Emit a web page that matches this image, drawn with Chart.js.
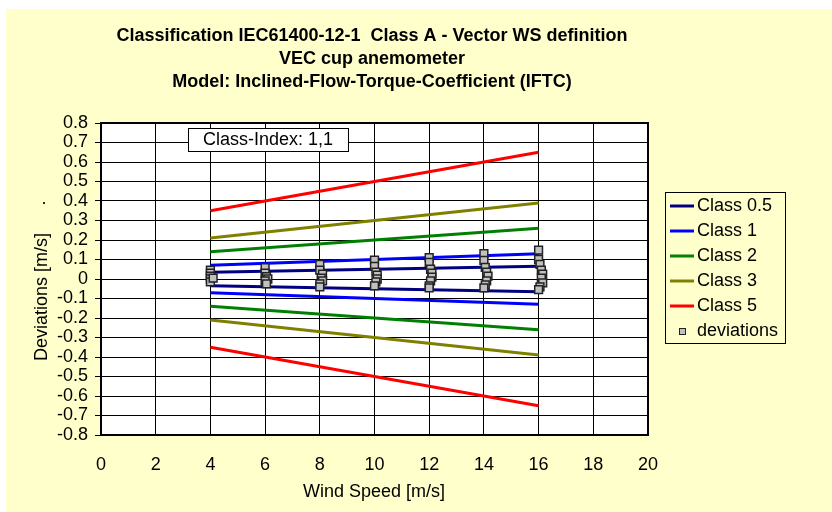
<!DOCTYPE html>
<html>
<head>
<meta charset="utf-8">
<title>Classification IEC61400-12-1</title>
<script src="https://cdn.jsdelivr.net/npm/chart.js@4/dist/chart.umd.min.js"></script>
<style>
    body { margin: 0; background: #fff; }
    canvas { display: block; }
</style>
</head>
<body>
<canvas id="devChart" width="832" height="512"></canvas>
<script>
// Class limit lines (upper / lower) at 4 and 16 m/s
const classNames = ['Class 0.5', 'Class 1', 'Class 2', 'Class 3', 'Class 5'];
const limitSpeeds = [4, 16];
const upperAt4 = [0.035, 0.07, 0.14, 0.21, 0.35];
const upperAt16 = [0.065, 0.13, 0.26, 0.39, 0.65];
const lowerAt4 = [-0.035, -0.07, -0.14, -0.21, -0.35];
const lowerAt16 = [-0.065, -0.13, -0.26, -0.39, -0.65];

const devSpeeds = [
    4.0, 4.0, 4.0, 4.0, 4.0, 4.1,
    6.0, 6.0, 6.05, 6.1, 6.0, 6.05,
    8.0, 8.0, 8.1, 8.05, 8.1, 8.0, 8.0,
    10.0, 10.0, 10.05, 10.1, 10.1, 10.05, 10.0,
    12.0, 12.0, 12.05, 12.1, 12.1, 12.05, 12.0, 12.0,
    14.0, 14.0, 14.05, 14.1, 14.15, 14.1, 14.05, 14.0,
    16.0, 16.0, 16.05, 16.1, 16.15, 16.1, 16.15, 16.05, 16.0
];
const devValues = [
    0.045, 0.03, 0.015, 0.0, -0.015, 0.005,
    0.058, 0.03, 0.012, 0.0, -0.01, -0.025,
    0.075, 0.046, 0.025, 0.005, -0.01, -0.025, -0.04,
    0.097, 0.065, 0.035, 0.02, 0.0, -0.015, -0.035,
    0.11, 0.085, 0.05, 0.03, 0.01, -0.01, -0.035, -0.045,
    0.13, 0.095, 0.06, 0.035, 0.015, -0.01, -0.03, -0.045,
    0.148, 0.1, 0.075, 0.045, 0.025, 0.005, -0.02, -0.04, -0.055
];

// Axis ticks
const xTickValues = [0, 2, 4, 6, 8, 10, 12, 14, 16, 18, 20];
const yTickValues = [-0.8, -0.7, -0.6, -0.5, -0.4, -0.3, -0.2, -0.1, 0, 0.1, 0.2, 0.3, 0.4, 0.5, 0.6, 0.7, 0.8];

const classColors = ['#000080', '#0000FF', '#008000', '#808000', '#FF0000'];
const FONT = "'Liberation Sans', Arial, sans-serif";

// Build one dataset per class: upper line, gap, lower line
const datasets = classNames.map(function(name, i) {
    return {
        label: name,
        showLine: true,
        spanGaps: false,
        data: [
            { x: limitSpeeds[0], y: upperAt4[i] },
            { x: limitSpeeds[1], y: upperAt16[i] },
            { x: limitSpeeds[1], y: null },
            { x: limitSpeeds[0], y: lowerAt4[i] },
            { x: limitSpeeds[1], y: lowerAt16[i] }
        ],
        borderColor: classColors[i],
        backgroundColor: classColors[i],
        borderWidth: 3,
        pointRadius: 0,
        order: 1
    };
});

datasets.push({
    label: 'deviations',
    showLine: false,
    data: devSpeeds.map(function(x, i) { return { x: x, y: devValues[i] }; }),
    pointStyle: 'rect',
    pointRadius: 5.5,
    backgroundColor: '#C0C0C0',
    borderColor: '#222',
    borderWidth: 1.5,
    order: 0
});

// Backgrounds: yellow chart area, white plot area
const backgroundPlugin = {
    id: 'backgrounds',
    beforeDraw: function(chart) {
        const ctx = chart.ctx;
        const a = chart.chartArea;
        ctx.save();
        ctx.fillStyle = '#fff';
        ctx.fillRect(0, 0, chart.width, chart.height);
        ctx.fillStyle = '#FFFFCC';
        ctx.fillRect(6, 9, chart.width - 6, chart.height - 9);
        ctx.fillStyle = '#fff';
        ctx.fillRect(a.left, a.top, a.right - a.left, a.bottom - a.top);
        ctx.restore();
    }
};

// Titles, plot frame, info box and legend
const decorPlugin = {
    id: 'decor',
    afterDraw: function(chart) {
        const ctx = chart.ctx;
        const a = chart.chartArea;
        ctx.save();

        // plot frame
        ctx.strokeStyle = '#000';
        ctx.lineWidth = 2;
        ctx.strokeRect(a.left, a.top, a.right - a.left, a.bottom - a.top);

        // title
        ctx.fillStyle = '#000';
        ctx.textAlign = 'center';
        ctx.textBaseline = 'middle';
        ctx.font = 'bold 18px ' + FONT;
        ctx.fillText('Classification IEC61400-12-1  Class A - Vector WS definition', 372, 36);
        ctx.fillText('VEC cup anemometer', 372, 59);
        ctx.fillText('Model: Inclined-Flow-Torque-Coefficient (IFTC)', 372, 82);

        // axis titles
        ctx.font = '18px ' + FONT;
        ctx.fillText('Wind Speed [m/s]', 374, 492);
        ctx.save();
        ctx.translate(42, 297);
        ctx.rotate(-Math.PI / 2);
        ctx.fillText('Deviations [m/s]', 0, 0);
        ctx.restore();
        ctx.fillText('.', 44, 199);

        // class index box
        ctx.fillStyle = '#fff';
        ctx.fillRect(188, 128, 160, 23);
        ctx.strokeStyle = '#000';
        ctx.lineWidth = 1;
        ctx.strokeRect(188.5, 128.5, 160, 23);
        ctx.fillStyle = '#000';
        ctx.fillText('Class-Index: 1,1', 268, 140);

        // legend
        ctx.strokeStyle = '#000';
        ctx.lineWidth = 1;
        ctx.strokeRect(665.5, 192.5, 120, 151);
        ctx.textAlign = 'left';
        chart.data.datasets.forEach(function(ds, i) {
            const y = 206 + i * 25;
            if (ds.showLine) {
                ctx.strokeStyle = ds.borderColor;
                ctx.lineWidth = 3;
                ctx.beginPath();
                ctx.moveTo(670, y);
                ctx.lineTo(694, y);
                ctx.stroke();
            } else {
                ctx.fillStyle = ds.backgroundColor;
                ctx.fillRect(679, y - 3, 6, 6);
                ctx.strokeStyle = '#222';
                ctx.lineWidth = 1;
                ctx.strokeRect(679.5, y - 2.5, 6, 6);
            }
            ctx.fillStyle = '#000';
            ctx.fillText(ds.label, 697, y);
        });

        ctx.restore();
    }
};

new Chart(document.getElementById('devChart'), {
    type: 'scatter',
    data: { datasets: datasets },
    options: {
        responsive: false,
        animation: false,
        devicePixelRatio: 1,
        layout: { padding: { top: 123, right: 184, bottom: 0, left: 0 } },
        plugins: {
            legend: { display: false },
            title: { display: false },
            tooltip: { enabled: false }
        },
        scales: {
            x: {
                type: 'linear',
                min: 0,
                max: 20,
                afterBuildTicks: function(scale) {
                    scale.ticks = xTickValues.map(function(v) { return { value: v }; });
                },
                afterFit: function(scale) { scale.height = 77; },
                grid: { color: '#000', lineWidth: 1, drawTicks: false },
                border: { color: '#000', width: 2 },
                ticks: {
                    color: '#000',
                    padding: 19,
                    autoSkip: false,
                    maxRotation: 0,
                    font: { family: FONT, size: 18 }
                }
            },
            y: {
                type: 'linear',
                min: -0.8,
                max: 0.8,
                afterBuildTicks: function(scale) {
                    scale.ticks = yTickValues.map(function(v) { return { value: v }; });
                },
                afterFit: function(scale) { scale.width = 101; },
                grid: { color: '#000', lineWidth: 1, tickLength: 6 },
                border: { color: '#000', width: 2 },
                ticks: {
                    color: '#000',
                    padding: 7,
                    autoSkip: false,
                    font: { family: FONT, size: 18 },
                    callback: function(v) { return String(Math.round(v * 10) / 10); }
                }
            }
        }
    },
    plugins: [backgroundPlugin, decorPlugin]
});
</script>
</body>
</html>
